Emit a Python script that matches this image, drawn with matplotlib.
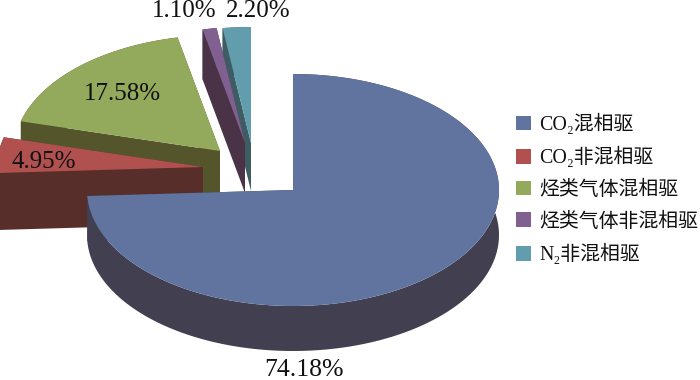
import numpy as np
import matplotlib
matplotlib.use("Agg")
import matplotlib.pyplot as plt
from matplotlib.patches import Polygon, Patch

FONT = ['Liberation Serif', 'Noto Sans CJK SC', 'DejaVu Sans']
plt.rcParams['font.family'] = FONT

categories = ['CO₂混相驱', 'CO₂非混相驱', '烃类气体混相驱', '烃类气体非混相驱', 'N₂非混相驱']
values = [74.18, 4.95, 17.58, 1.10, 2.20]
value_labels = ['74.18%', '4.95%', '17.58%', '1.10%', '2.20%']

top_colors = ['#61749F', '#B0504F', '#93A95B', '#7F6090', '#619DAD']
side_colors = ['#413F50', '#582E2A', '#55552B', '#4A3347', '#3E5C64']

# Layout in pixel coordinates of the 700x380 canvas
apex_x = [293, 203, 220, 245, 251]
apex_y = [190, 167, 151, 143, 143]
depths = [45, 57, 55, 50, 48]
RX, RY = 206, 116
label_x = [304, 44, 122, 184, 258]
label_y = [369.5, 162, 94, 11, 11]
label_size = [18.5, 18, 18, 18, 18]

fig = plt.figure(figsize=(7, 3.8), dpi=100)
ax = fig.add_axes([0, 0, 1, 1])
ax.set_xlim(0, 700)
ax.set_ylim(380, 0)
ax.axis('off')

fractions = np.array(values) / np.sum(values)
ends = np.cumsum(fractions) * 2 * np.pi
starts = ends - fractions * 2 * np.pi


def outer(cx, cy, t):
    return np.column_stack([cx + RX * np.sin(t), cy - RY * np.cos(t)])


# Back-to-front painting order
for i in [4, 3, 2, 1, 0]:
    cx, cy, d = apex_x[i], apex_y[i], depths[i]
    t = np.linspace(starts[i], ends[i], 240)
    arc = outer(cx, cy, t)
    apex = np.array([[cx, cy]])
    shift = np.array([0, d])

    # Radial walls
    for end_pt in (arc[0], arc[-1]):
        quad = np.vstack([apex, [end_pt], [end_pt + shift], apex + shift])
        ax.add_patch(Polygon(quad, closed=True, fc=side_colors[i], ec='none', zorder=10 - i))
    # Rim wall
    rim = np.vstack([arc, (arc + shift)[::-1]])
    ax.add_patch(Polygon(rim, closed=True, fc=side_colors[i], ec='none', zorder=10 - i))
    # Top face
    face = np.vstack([apex, arc])
    ax.add_patch(Polygon(face, closed=True, fc=top_colors[i], ec='none', zorder=10 - i + 0.5))

for i, lab in enumerate(value_labels):
    ax.text(label_x[i], label_y[i], lab, fontsize=label_size[i], color='#111111',
            ha='center', va='center', zorder=30, clip_on=False)

handles = [Patch(fc=c, ec='none', label=n) for c, n in zip(top_colors, categories)]
ax.legend(handles=handles, loc='center left', bbox_to_anchor=(516 / 700, 1 - 189.5 / 380),
          frameon=False, fontsize=14.3, handlelength=0.76, handleheight=0.76,
          handletextpad=0.42, labelspacing=0.62, borderpad=0, borderaxespad=0,
          labelcolor='#111111')

fig.savefig('out.png', dpi=100)
